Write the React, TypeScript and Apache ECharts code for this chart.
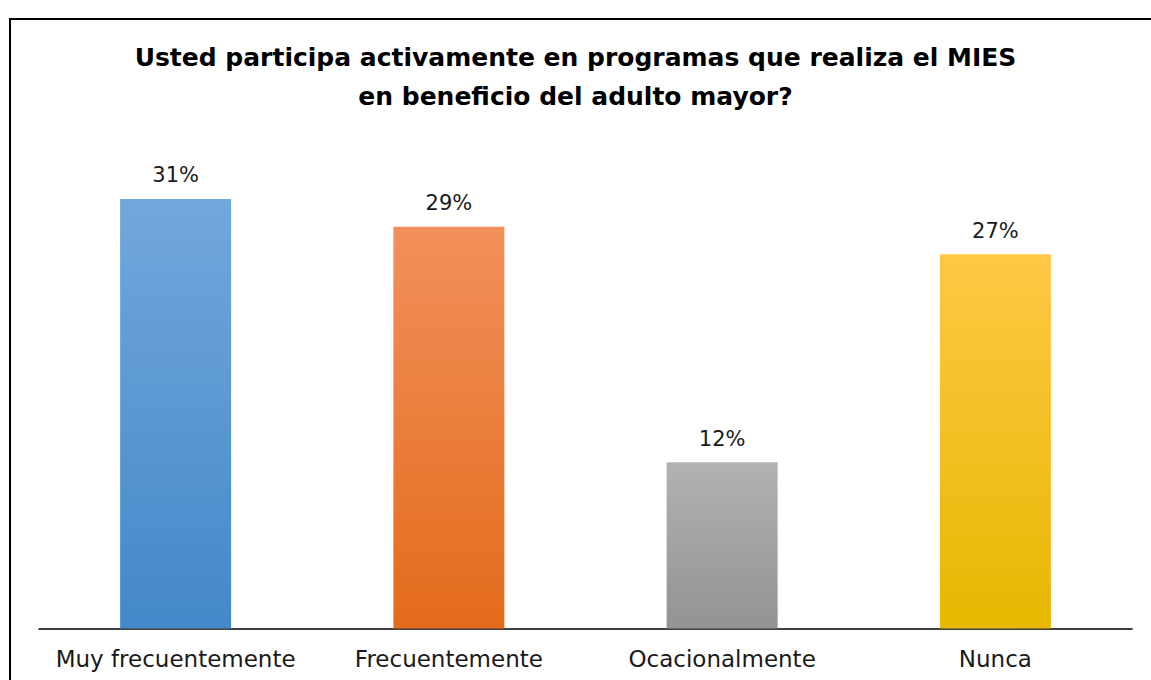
import React, { useEffect, useRef } from "react";
import * as echarts from "echarts";

const titleLines = [
  "Usted participa activamente en programas que realiza el MIES",
  "en beneficio del adulto mayor?",
];
const categories = ["Muy frecuentemente", "Frecuentemente", "Ocacionalmente", "Nunca"];
const values = [31, 29, 12, 27];
const topColors = ["#72A7DC", "#F2905B", "#B2B2B2", "#FFC845"];
const bottomColors = ["#4388C9", "#E36B1B", "#939393", "#E7B700"];

export default function App() {
  const ref = useRef<HTMLDivElement>(null);
  useEffect(() => {
    document.body.style.margin = "0";
    const chart = echarts.init(ref.current!, null, { renderer: "svg" });
    chart.setOption({
      animation: false,
      backgroundColor: "#ffffff",
      title: {
        text: titleLines.join("\n"),
        left: "center",
        top: 33,
        textStyle: {
          fontFamily: "DejaVu Sans",
          fontWeight: "bold",
          fontSize: 25,
          lineHeight: 39,
          color: "#000000",
        },
      },
      graphic: [
        {
          type: "rect",
          shape: { x: 10, y: 19, width: 1300, height: 800 },
          style: { fill: "none", stroke: "#000000", lineWidth: 2 },
          silent: true,
        },
      ],
      grid: { left: 39, right: 19, top: 143.5, bottom: 51.5 },
      xAxis: {
        type: "category",
        data: categories,
        axisLine: { show: true, lineStyle: { color: "#000000", width: 1.5 } },
        axisTick: { show: false },
        axisLabel: {
          interval: 0,
          hideOverlap: false,
          margin: 19,
          fontFamily: "DejaVu Sans",
          fontSize: 23,
          color: "#1a1a1a",
        },
      },
      yAxis: {
        type: "value",
        min: 0,
        max: 35,
        show: false,
        splitLine: { show: false },
      },
      series: [
        {
          type: "bar",
          barWidth: 111,
          data: values.map((v, i) => ({
            value: v,
            itemStyle: {
              color: new echarts.graphic.LinearGradient(0, 0, 0, 1, [
                { offset: 0, color: topColors[i] },
                { offset: 1, color: bottomColors[i] },
              ]),
            },
          })),
          label: {
            show: true,
            position: "top",
            distance: 13,
            formatter: "{c}%",
            fontFamily: "DejaVu Sans",
            fontSize: 21,
            color: "#1a1a1a",
          },
        },
      ],
    });
    return () => chart.dispose();
  }, []);
  return <div ref={ref} style={{ width: 1151, height: 680 }} />;
}
